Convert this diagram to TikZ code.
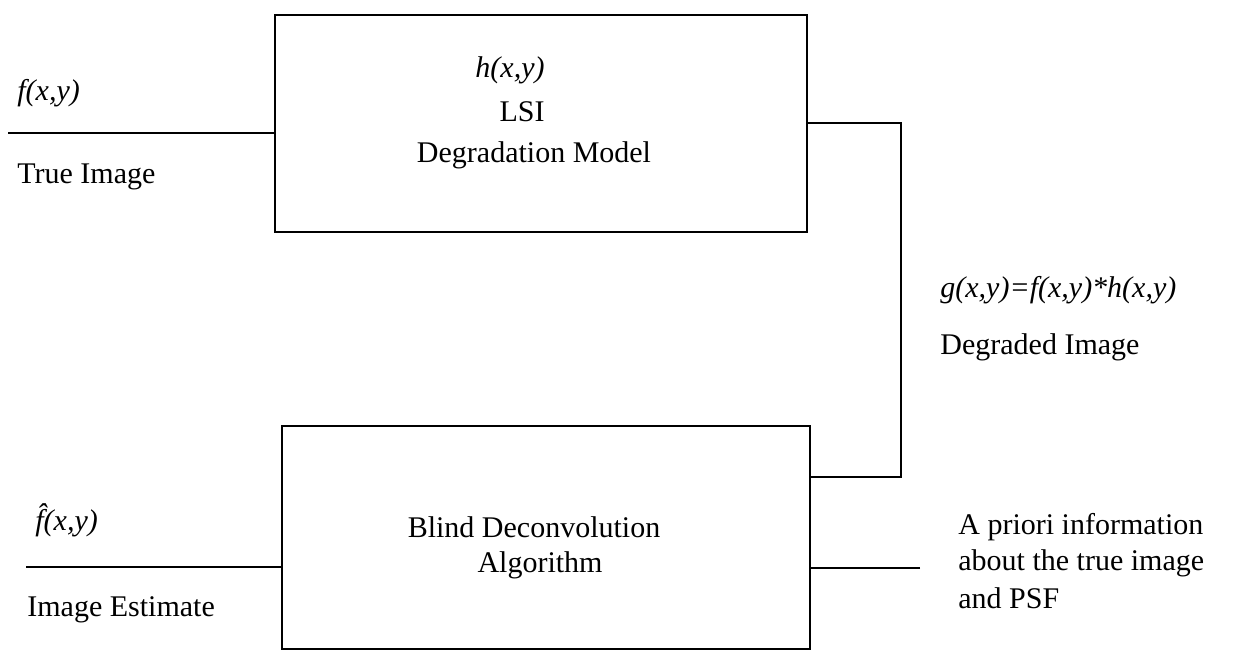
\documentclass[tikz,border=0pt]{standalone}
\usepackage{fontspec}
\setmainfont{Liberation Serif}
\begin{document}
\begin{tikzpicture}[x=0.5pt,y=-0.5pt,
  every node/.style={font=\fontsize{15}{18}\selectfont, inner sep=0pt},
  block/.style={draw, line width=1.1pt, inner sep=0pt},
  wire/.style={line width=1.1pt},
  lbl/.style={anchor=west}]
\useasboundingbox (0,0) rectangle (1235,654);

% blocks
\node[block, minimum width=266pt, minimum height=108.5pt] (model) at (541,123.5) {};
\node[block, minimum width=264pt, minimum height=111.5pt] (blind) at (546,537.5) {};

% text inside the degradation model
\node (hxy) at (510,70) {\textit{h(x,y)}};
\node (lsi) at (522,112) {LSI};
\node (dm)  at (534,155) {Degradation Model};

% text inside the deconvolution block
\node (bd)  at (534,527) {Blind Deconvolution};
\node (alg) at (540,565) {Algorithm};

% input: true image
\coordinate (fin) at (8,133);
\draw[wire] (fin) -- (fin -| model.west);
\node[lbl] (f)  at (17,93)  {\textit{f(x,y)}};
\node[lbl] (ti) at (17,177) {True Image};

% degraded image path
\coordinate (c1) at (901,123);
\coordinate (c2) at (901,477);
\draw[wire] (c1 -| model.east) -- (c1) -- (c2) -- (c2 -| blind.east);
\node[lbl] (g)  at (940,290) {\textit{g(x,y)=f(x,y)*h(x,y)}};
\node[lbl] (di) at (940,347) {Degraded Image};

% output: image estimate
\coordinate (fout) at (26,567);
\draw[wire] (fout) -- (fout -| blind.west);
\node[lbl] (fh) at (35,520) {\textit{\^{f}(x,y)}};
\node[lbl] (ie) at (27,610) {Image Estimate};

% a priori information
\coordinate (pin) at (920,568);
\draw[wire] (pin) -- (pin -| blind.east);
\node[lbl] (ap1) at (958,527) {A priori information};
\node[lbl] (ap2) at (958,563) {about the true image};
\node[lbl] (ap3) at (958,598) {and PSF};
\end{tikzpicture}
\end{document}
